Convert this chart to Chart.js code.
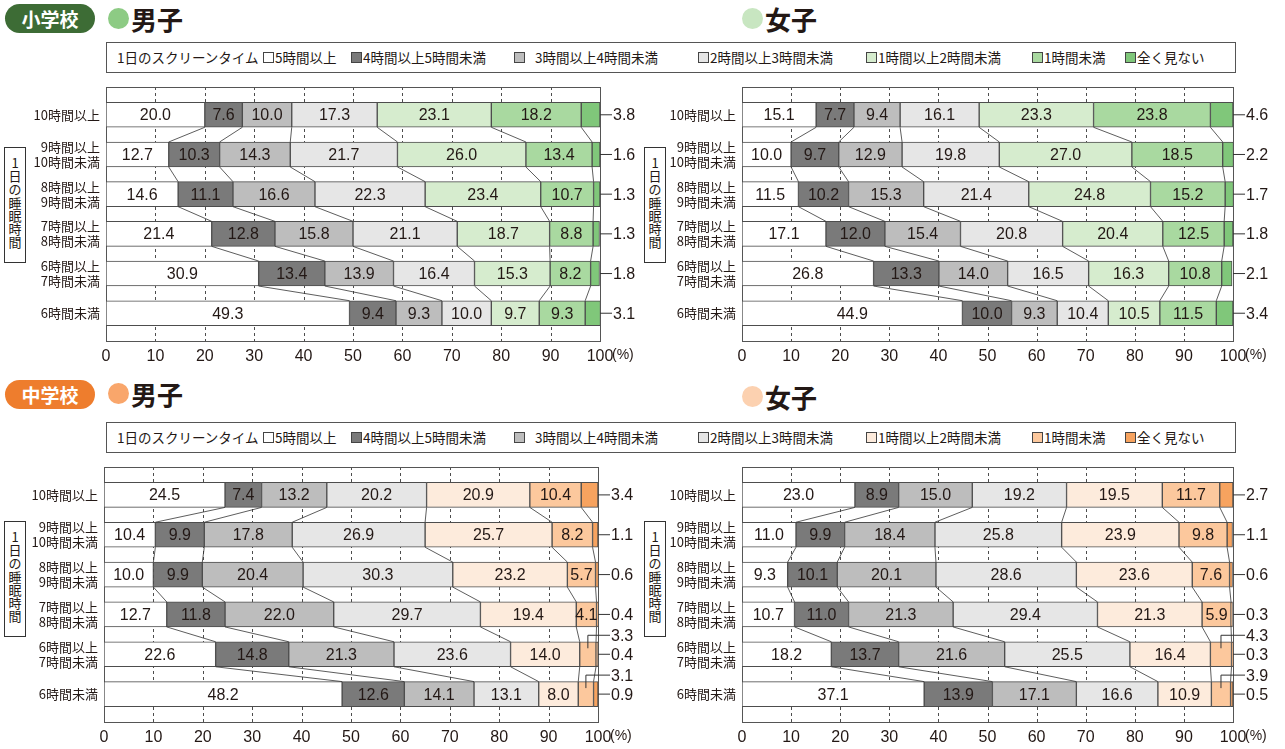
<!DOCTYPE html>
<html lang="ja">
<head>
<meta charset="utf-8">
<title>1日のスクリーンタイムと睡眠時間</title>
<script src="https://cdn.jsdelivr.net/npm/chart.js@4.4.1/dist/chart.umd.min.js"></script>
<style>
  body { margin: 0; width: 1285px; height: 749px; background: #fff; position: relative; overflow: hidden;
         font-family: "Noto Sans CJK JP", sans-serif; color: #231815; }
  .pill { position: absolute; width: 90px; height: 29px; border-radius: 15px; color: #fff; font-weight: 700;
          font-size: 19px; line-height: 29px; text-align: center; }
  .dot { position: absolute; width: 21px; height: 21px; border-radius: 50%; }
  .sex { position: absolute; font-size: 26px; font-weight: 700; line-height: 26px; }
  .legend { position: absolute; left: 106px; width: 1130px; height: 31px; border: 1px solid #555;
            box-sizing: border-box; font-size: 13.5px; background: #fff; }
  .legend span { position: absolute; top: 0; line-height: 29px; white-space: nowrap; }
  .legend i { position: absolute; top: 9px; width: 11px; height: 11px; border: 1px solid #444; box-sizing: border-box; }
  .vbox { position: absolute; width: 22px; height: 116px; border: 1px solid #333; box-sizing: border-box;
          font-size: 13px; line-height: 13.2px; text-align: center; padding-top: 8px; background: #fff; }
  canvas { position: absolute; }
</style>
</head>
<body>
<div class="pill" style="left:5px;top:4px;background:#3d6c35">小学校</div>
<div class="dot" style="left:108px;top:8px;background:#8dcb84"></div>
<div class="sex" style="left:131px;top:6px">男子</div>
<div class="dot" style="left:742px;top:8px;background:#c8e6c1"></div>
<div class="sex" style="left:765px;top:6px">女子</div>
<div class="legend" id="legendTop" style="top:42px"></div>

<div class="pill" style="left:5px;top:380px;background:#ee7d2d">中学校</div>
<div class="dot" style="left:108px;top:383px;background:#f9a66b"></div>
<div class="sex" style="left:131px;top:381px">男子</div>
<div class="dot" style="left:742px;top:386px;background:#fcd1b0"></div>
<div class="sex" style="left:765px;top:384px">女子</div>
<div class="legend" id="legendBottom" style="top:422px"></div>

<div class="vbox" style="left:4px;top:147px">1<br>日<br>の<br>睡<br>眠<br>時<br>間</div>
<div class="vbox" style="left:644px;top:147px">1<br>日<br>の<br>睡<br>眠<br>時<br>間</div>
<div class="vbox" style="left:4px;top:521px">1<br>日<br>の<br>睡<br>眠<br>時<br>間</div>
<div class="vbox" style="left:644px;top:521px">1<br>日<br>の<br>睡<br>眠<br>時<br>間</div>

<canvas id="esBoysChart" width="640" height="290" style="left:0;top:80px"></canvas>
<canvas id="esGirlsChart" width="645" height="290" style="left:640px;top:80px"></canvas>
<canvas id="jhBoysChart" width="640" height="289" style="left:0;top:460px"></canvas>
<canvas id="jhGirlsChart" width="645" height="289" style="left:640px;top:460px"></canvas>

<script>
// rows of the chart (sleep time), top to bottom
const sleepLabels = ['10時間以上', '9時間以上\n10時間未満', '8時間以上\n9時間未満',
                     '7時間以上\n8時間未満', '6時間以上\n7時間未満', '6時間未満'];
// stacked segments (screen time per day)
const screenLabels = ['5時間以上', '4時間以上5時間未満', '3時間以上4時間未満', '2時間以上3時間未満',
                      '1時間以上2時間未満', '1時間未満', '全く見ない'];

// one line per screen-time band, values follow sleepLabels order (%)
const esBoys = [
  [20.0, 12.7, 14.6, 21.4, 30.9, 49.3],
  [7.6, 10.3, 11.1, 12.8, 13.4, 9.4],
  [10.0, 14.3, 16.6, 15.8, 13.9, 9.3],
  [17.3, 21.7, 22.3, 21.1, 16.4, 10.0],
  [23.1, 26.0, 23.4, 18.7, 15.3, 9.7],
  [18.2, 13.4, 10.7, 8.8, 8.2, 9.3],
  [3.8, 1.6, 1.3, 1.3, 1.8, 3.1]
];
const esGirls = [
  [15.1, 10.0, 11.5, 17.1, 26.8, 44.9],
  [7.7, 9.7, 10.2, 12.0, 13.3, 10.0],
  [9.4, 12.9, 15.3, 15.4, 14.0, 9.3],
  [16.1, 19.8, 21.4, 20.8, 16.5, 10.4],
  [23.3, 27.0, 24.8, 20.4, 16.3, 10.5],
  [23.8, 18.5, 15.2, 12.5, 10.8, 11.5],
  [4.6, 2.2, 1.7, 1.8, 2.1, 3.4]
];
const jhBoys = [
  [24.5, 10.4, 10.0, 12.7, 22.6, 48.2],
  [7.4, 9.9, 9.9, 11.8, 14.8, 12.6],
  [13.2, 17.8, 20.4, 22.0, 21.3, 14.1],
  [20.2, 26.9, 30.3, 29.7, 23.6, 13.1],
  [20.9, 25.7, 23.2, 19.4, 14.0, 8.0],
  [10.4, 8.2, 5.7, 4.1, 3.3, 3.1],
  [3.4, 1.1, 0.6, 0.4, 0.4, 0.9]
];
const jhGirls = [
  [23.0, 11.0, 9.3, 10.7, 18.2, 37.1],
  [8.9, 9.9, 10.1, 11.0, 13.7, 13.9],
  [15.0, 18.4, 20.1, 21.3, 21.6, 17.1],
  [19.2, 25.8, 28.6, 29.4, 25.5, 16.6],
  [19.5, 23.9, 23.6, 21.3, 16.4, 10.9],
  [11.7, 9.8, 7.6, 5.9, 4.3, 3.9],
  [2.7, 1.1, 0.6, 0.3, 0.3, 0.5]
];
// rows whose "1時間未満" label is pulled out above the bar (中学校)
const jhCalloutRows = [4, 5];

const grayColors = ['#ffffff', '#7a7a7a', '#bdbdbd', '#e6e6e6'];
const greenColors = [...grayColors, '#d6ecce', '#a9d9a0', '#80c77a'];
const orangeColors = [...grayColors, '#fdebdc', '#fcc89d', '#f7a35f'];

const numFont = '16px "Liberation Sans", sans-serif';
const ink = '#231815';

// legend boxes spanning both columns
function buildLegend(id, colors) {
  const box = document.getElementById(id);
  const squareX = [263, 351, 514, 698, 866, 1032, 1125];
  const title = document.createElement('span');
  title.textContent = '1日のスクリーンタイム';
  title.style.left = '10px';
  box.appendChild(title);
  screenLabels.forEach((lab, k) => {
    const sq = document.createElement('i');
    sq.style.left = (squareX[k] - 107) + 'px';
    sq.style.background = colors[k];
    box.appendChild(sq);
    const t = document.createElement('span');
    t.textContent = lab;
    t.style.left = (squareX[k] - 107 + (k === 2 ? 21 : 12)) + 'px';
    box.appendChild(t);
  });
}
buildLegend('legendTop', greenColors);
buildLegend('legendBottom', orangeColors);

const panelPlugin = {
  id: 'panel',
  beforeDatasetsDraw(chart) {
    const { ctx, chartArea: a, scales: { x } } = chart;
    ctx.save();
    ctx.strokeStyle = '#4d4d4d';
    ctx.lineWidth = 1;
    ctx.setLineDash([3, 3]);
    for (let v = 10; v < 100; v += 10) {
      const px = Math.round(x.getPixelForValue(v)) + 0.5;
      ctx.beginPath();
      ctx.moveTo(px, a.top);
      ctx.lineTo(px, a.bottom);
      ctx.stroke();
    }
    ctx.setLineDash([]);
    ctx.strokeStyle = '#555';
    ctx.strokeRect(Math.round(a.left) + 0.5, Math.round(a.top) + 0.5,
                   Math.round(a.width), Math.round(a.height));
    ctx.restore();
  },
  afterDatasetsDraw(chart, args, opts) {
    const { ctx, scales: { x } } = chart;
    const metas = chart.data.datasets.map((d, s) => chart.getDatasetMeta(s));
    const edge = x.getPixelForValue(100);
    ctx.save();

    // connecting lines between neighbouring bars
    ctx.strokeStyle = '#333';
    ctx.lineWidth = 0.8;
    for (let s = 0; s < metas.length - 1; s++) {
      const bars = metas[s].data;
      for (let i = 0; i < bars.length - 1; i++) {
        ctx.beginPath();
        ctx.moveTo(bars[i].x, bars[i].y + bars[i].height / 2);
        ctx.lineTo(bars[i + 1].x, bars[i + 1].y - bars[i + 1].height / 2);
        ctx.stroke();
      }
    }

    // value labels
    ctx.font = numFont;
    ctx.fillStyle = ink;
    ctx.textBaseline = 'middle';
    ctx.lineWidth = 1;
    metas.forEach((meta, s) => {
      const vals = chart.data.datasets[s].data;
      meta.data.forEach((bar, i) => {
        const txt = vals[i].x.toFixed(1);
        if (s === metas.length - 1) {
          ctx.beginPath();
          ctx.moveTo(edge, bar.y);
          ctx.lineTo(edge + 12, bar.y);
          ctx.stroke();
          ctx.textAlign = 'left';
          ctx.fillText(txt, edge + 13, bar.y + 1);
        } else if (s === metas.length - 2 && opts.callouts.includes(i)) {
          const cx = (bar.x + bar.base) / 2;
          const ty = bar.y - 19;
          ctx.beginPath();
          ctx.moveTo(cx, bar.y - 6);
          ctx.lineTo(cx, ty);
          ctx.lineTo(edge + 12, ty);
          ctx.stroke();
          ctx.textAlign = 'left';
          ctx.fillText(txt, edge + 13, ty + 1);
        } else {
          ctx.textAlign = 'center';
          ctx.fillText(txt, (bar.x + bar.base) / 2, bar.y + 1);
        }
      });
    });

    // unit after the 100 tick
    ctx.font = '14px "Liberation Sans", sans-serif';
    ctx.textAlign = 'left';
    ctx.fillText('(%)', edge + 12, x.top + 14);
    ctx.restore();
  }
};

function drawPanel(id, rows, colors, layout, callouts) {
  const datasets = rows.map((vals, s) => ({
    label: screenLabels[s],
    data: vals.map((v, i) => ({ x: v, y: i })),
    backgroundColor: colors[s],
    borderColor: '#4d4d4d',
    borderWidth: 1,
    borderSkipped: false,
    barThickness: 25
  }));

  new Chart(document.getElementById(id), {
    type: 'bar',
    data: { datasets },
    options: {
      indexAxis: 'y',
      responsive: false,
      animation: false,
      layout: { padding: { top: layout.top, right: layout.right, left: 0, bottom: 0 } },
      scales: {
        x: {
          type: 'linear',
          stacked: true,
          min: 0,
          max: 100,
          grid: { display: false, drawTicks: false },
          border: { display: false },
          ticks: {
            stepSize: 10,
            maxRotation: 0,
            autoSkip: false,
            padding: 6,
            color: ink,
            font: { family: '"Liberation Sans", sans-serif', size: 16 }
          },
          afterFit: ax => {
            ax.height = layout.xHeight;
            ax.paddingLeft = 0;
            ax.paddingRight = 0;
          }
        },
        y: {
          type: 'linear',
          stacked: true,
          reverse: true,
          offset: false,
          min: -0.7,
          max: 5.7,
          grid: { display: false, drawTicks: false, offset: false },
          border: { display: false },
          afterBuildTicks: ax => { ax.ticks = sleepLabels.map((_, i) => ({ value: i })); },
          ticks: {
            padding: 6,
            color: ink,
            font: { family: '"Noto Sans CJK JP", sans-serif', size: 13, lineHeight: 1.15 },
            callback: v => sleepLabels[v].split('\n')
          },
          afterFit: ax => {
            ax.width = layout.yWidth;
            ax.paddingTop = 0;
            ax.paddingBottom = 0;
          }
        }
      },
      plugins: {
        legend: { display: false },
        tooltip: { enabled: false },
        panel: { callouts: callouts }
      }
    },
    plugins: [panelPlugin]
  });
}

drawPanel('esBoysChart', esBoys, greenColors, { top: 7, right: 40, yWidth: 106, xHeight: 29 }, []);
drawPanel('esGirlsChart', esGirls, greenColors, { top: 7, right: 52, yWidth: 102, xHeight: 29 }, []);
drawPanel('jhBoysChart', jhBoys, orangeColors, { top: 7, right: 42, yWidth: 104, xHeight: 27 }, jhCalloutRows);
drawPanel('jhGirlsChart', jhGirls, orangeColors, { top: 7, right: 52, yWidth: 102, xHeight: 27 }, jhCalloutRows);
</script>
</body>
</html>
